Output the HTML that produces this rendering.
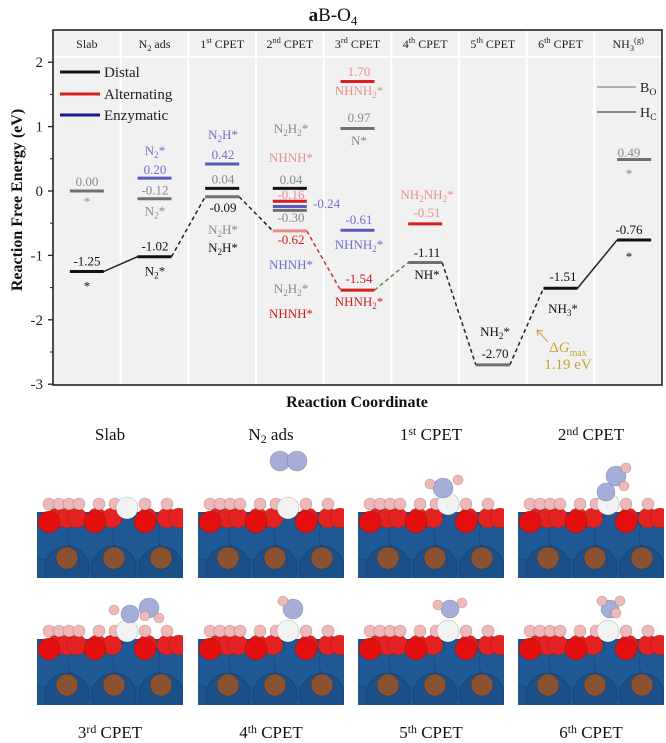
<!DOCTYPE html>
<html><head><meta charset="utf-8">
<style>
body{margin:0;background:#fff;}
svg{display:block;font-family:"Liberation Serif",serif;}
</style></head>
<body>
<svg id="fig" width="666" height="743" viewBox="0 0 666 743" xmlns="http://www.w3.org/2000/svg">
<defs><clipPath id="pc"><rect x="0" y="-45" width="146" height="129"/></clipPath></defs>
<g id="chart"></g>
<g id="slabs"></g>
</svg>
<script>
// ---- chart data ----
const stepNames = ["Slab","N<s>2</s> ads","1<p>st</p> CPET","2<p>nd</p> CPET","3<p>rd</p> CPET","4<p>th</p> CPET","5<p>th</p> CPET","6<p>th</p> CPET","NH<s>3</s><p>(g)</p>"];
const levelCols   = [0,0,1,1,1,2,2,2,3,3,3,3,3,4,4,4,4,5,5,6,7,8,8];
const levelValues = [0.00,-1.25,0.20,-0.12,-1.02,0.42,0.04,-0.09,0.04,-0.16,-0.24,-0.30,-0.62,1.70,0.97,-0.61,-1.54,-0.51,-1.11,-2.70,-1.51,0.49,-0.76];
const levelKinds  = ["g","k","b","g","k","b","k","g","k","r","b","g","p","r","g","b","r","r","g","g","k","g","k"];
const connFrom = [[0,-1.25],[1,-1.02],[2,-0.09],[3,-0.62],[4,-1.54],[5,-1.11],[6,-2.70],[7,-1.51]];
const connTo   = [[1,-1.02],[2,-0.09],[3,-0.62],[4,-1.54],[5,-1.11],[6,-2.70],[7,-1.51],[8,-0.76]];
const connKinds = ["solid-k","dash-k","dash-k","dash-r","dash-gr","dash-k","dash-k","solid-k"];
const yTicks = [2,1,0,-1,-2,-3];

const L=53,R=662,T=30,B=385,HB=57,colW=(R-L)/9;
const y0=191,pu=64.4;
function Y(v){return y0-v*pu;}
function CX(c){return L+colW*c+colW/2+(c===8?6:0);}
const lineCol={k:"#111",g:"#6f6f6f",b:"#5a5ab8",r:"#d81e1e",p:"#e88a8a"};
const NS="http://www.w3.org/2000/svg";
const chart=document.getElementById('chart');
function el(tag,attrs,parent){const e=document.createElementNS(NS,tag);for(const k in attrs)e.setAttribute(k,attrs[k]);(parent||chart).appendChild(e);return e;}
function fmt(s){return s.replace(/<s>(.*?)<\/s>/g,'<tspan font-size="0.7em" dy="3">$1</tspan><tspan dy="-3">&#8203;</tspan>').replace(/<p>(.*?)<\/p>/g,'<tspan font-size="0.7em" dy="-5">$1</tspan><tspan dy="5">&#8203;</tspan>');}
function txt(x,y,s,size,fill,anchor,weight){const t=el('text',{x:x,y:y,'font-size':size,fill:fill,'text-anchor':anchor||'middle','font-weight':weight||'normal'});t.innerHTML=fmt(s);return t;}

const bg=el('rect',{x:L,y:T,width:R-L,height:B-T,fill:"#f1f1f1"});

for(let i=1;i<9;i++){const s=el('line',{x1:L+colW*i,x2:L+colW*i,y1:T,y2:B,stroke:"#fff","stroke-width":2});
}
el('line',{x1:L,x2:R,y1:HB,y2:HB,stroke:"#fff","stroke-width":2});
stepNames.forEach((n,i)=>{const t=txt(L+colW*i+colW/2,48,n,12,"#222");
});
const fr=el('rect',{x:L,y:T,width:R-L,height:B-T,fill:"none",stroke:"#222","stroke-width":1.6});

yTicks.forEach(v=>{el('line',{x1:L-5,x2:L,y1:Y(v),y2:Y(v),stroke:"#222","stroke-width":1.3});
const t=txt(L-10,Y(v)+5,String(v),15,"#222","end");
if(v>-3)el('line',{x1:L-3,x2:L,y1:Y(v-0.5),y2:Y(v-0.5),stroke:"#222","stroke-width":1});});
const yt=txt(0,0,"Reaction  Free  Energy (eV)",16,"#111","middle","bold");
yt.setAttribute('transform','translate(22,200) rotate(-90)');

const xt=txt(357,407,"Reaction Coordinate",16,"#111","middle","bold");

const tt=el('text',{x:333,y:21,'font-size':19,'text-anchor':'middle',fill:'#111'});
tt.innerHTML='<tspan font-weight="bold">a</tspan>B-O<tspan font-size="13" dy="4">4</tspan>';


connFrom.forEach((f,i)=>{const t=connTo[i];const k=connKinds[i];
const col=k.endsWith('-r')?"#d03030":k.endsWith('-gr')?"#5a8a3a":"#222";
const ln=el('line',{x1:CX(f[0])+17,y1:Y(f[1]),x2:CX(t[0])-17,y2:Y(t[1]),stroke:col,"stroke-width":1.5});
if(k.startsWith('dash'))ln.setAttribute('stroke-dasharray','4,3');
});
levelValues.forEach((v,i)=>{const c=levelCols[i];
const ln=el('line',{x1:CX(c)-17,x2:CX(c)+17,y1:Y(v),y2:Y(v),stroke:lineCol[levelKinds[i]],"stroke-width":3});
});

const K="#111",G="#8a8a8a",BL="#7070c8",PK="#e89090",RD="#cc1f1f";
const ann=[
[87,Y(0)-5,"0.00",G],[87,Y(0)+15,"*",G],[87,Y(-1.25)-6,"-1.25",K],[87,Y(-1.25)+19,"*",K],
[155,Y(0.2)-23,"N<s>2</s>*",BL],[155,Y(0.2)-4,"0.20",BL],[155,Y(-0.12)-4,"-0.12",G],[155,Y(-0.12)+17,"N<s>2</s>*",G],
[155,Y(-1.02)-6,"-1.02",K],[155,Y(-1.02)+19,"N<s>2</s>*",K],
[223,Y(0.42)-25,"N<s>2</s>H*",BL],[223,Y(0.42)-5,"0.42",BL],[223,Y(0.04)-5,"0.04",G],[223,212,"-0.09",K],
[223,234,"N<s>2</s>H*",G],[223,252,"N<s>2</s>H*",K],
[291,133,"N<s>2</s>H<s>2</s>*",G],[291,162,"NHNH*",PK],[291,184,"0.04",G],[291,199,"-0.16",PK],[291,222,"-0.30",G],
[291,244,"-0.62",RD],[291,269,"NHNH*",BL],[291,293,"N<s>2</s>H<s>2</s>*",G],[291,318,"NHNH*",RD],
[359,76,"1.70",PK],[359,95,"NHNH<s>2</s>*",PK],[359,122,"0.97",G],[359,145,"N*",G],
[359,224,"-0.61",BL],[359,249,"NHNH<s>2</s>*",BL],[359,283,"-1.54",RD],[359,306,"NHNH<s>2</s>*",RD],
[427,199,"NH<s>2</s>NH<s>2</s>*",PK],[427,217,"-0.51",PK],[427,257,"-1.11",K],[427,279,"NH*",K],
[495,336,"NH<s>2</s>*",K],[495,358,"-2.70",K],
[563,281,"-1.51",K],[563,313,"NH<s>3</s>*",K],
[629,157,"0.49",G],[629,178,"*",G],[629,234,"-0.76",K],[629,261,"*",K]];
ann.forEach(a=>{const t=txt(a[0],a[1],a[2],13,a[3]);});
const t24=txt(313,208,"-0.24",13,BL,"start");
const dg=el('text',{x:568,y:352,'font-size':15,fill:'#c8a032','text-anchor':'middle'});
dg.innerHTML='&#916;<tspan font-style="italic">G</tspan><tspan font-size="10" dy="4">max</tspan>';

const dv=txt(568,369,"1.19 eV",15,"#c8a032");
el('line',{x1:548,y1:342,x2:538,y2:331,stroke:"#c8a032","stroke-width":1});
el('polyline',{points:"538,336 537,330 543,331",fill:"none",stroke:"#c8a032","stroke-width":1});
[["Distal","#111",72],["Alternating","#d81e1e",94],["Enzymatic","#1a1a8a",115]].forEach(l=>{
const g=el('line',{x1:60,x2:100,y1:l[2],y2:l[2],stroke:l[1],"stroke-width":3});

const t=txt(104,l[2]+5,l[0],15,"#222","start");});
[["B<s>O</s>","#b0b0b0",87],["H<s>C</s>","#888",112]].forEach(l=>{
el('line',{x1:597,x2:636,y1:l[2],y2:l[2],stroke:l[1],"stroke-width":2});
const t=txt(640,l[2]+5,l[0],14,"#222","start");});

// ---- slab images ----
const slabs=document.getElementById('slabs');
function sel(tag,a,p){const e=document.createElementNS(NS,tag);for(const k in a)e.setAttribute(k,a[k]);p.appendChild(e);return e;}
function ball(p,x,y,r,c){sel('circle',{cx:x,cy:y,r:r,fill:c,stroke:"rgba(0,0,0,0.25)","stroke-width":0.6},p);}
const Ncol="#a4aed8",Hcol="#f0b8b8",Wcol="#f2f2f2";
function slab(ox,oy,ads){
 const g0=sel('g',{transform:`translate(${ox},${oy})`},slabs);
 
 const g=sel('g',{'clip-path':'url(#pc)'},g0);
 sel('rect',{x:0,y:18,width:146,height:66,fill:"#1d5590"},g);
 [10,55,100,145].forEach(x=>ball(g,x,42,24,"#1f5a96"));
 [30,77,124].forEach(x=>ball(g,x,74,22,"#1a4f88"));
 [30,77,124].forEach(x=>ball(g,x,64,11,"#8a5230"));
 [20,30,40,60,75,110,130,142].forEach(x=>ball(g,x,24,10,"#e52222"));
 [12,58,108].forEach(x=>ball(g,x,28,11,"#e41010"));
 [12,22,32,42,62,78,108,130].forEach(x=>ball(g,x,10,6,Hcol));
 ball(g,90,14+(ads.by||0),11,Wcol);
 (ads.a||[]).forEach(a=>ball(g,a[0],a[1],a[2],a[3]));
}
const cols=[37,198,358,518];
slab(cols[0],494,{});
slab(cols[1],494,{a:[[82,-33,10,Ncol],[99,-33,10,Ncol]]});
slab(cols[2],494,{by:-4,a:[[85,-6,10,Ncol],[72,-10,5,Hcol],[100,-14,5,Hcol]]});
slab(cols[3],494,{by:-4,a:[[88,-2,9,Ncol],[98,-18,10,Ncol],[108,-26,5,Hcol],[106,-8,5,Hcol]]});
slab(cols[0],621,{by:-4,a:[[93,-7,9,Ncol],[112,-13,10,Ncol],[77,-11,5,Hcol],[122,-3,5,Hcol],[108,-5,5,Hcol]]});
slab(cols[1],621,{by:-4,a:[[95,-12,10,Ncol],[85,-20,5,Hcol]]});
slab(cols[2],621,{by:-4,a:[[92,-12,9,Ncol],[80,-16,5,Hcol],[104,-18,5,Hcol]]});
slab(cols[3],621,{by:-4,a:[[92,-12,9,Ncol],[84,-20,5,Hcol],[102,-20,5,Hcol],[98,-8,5,Hcol]]});
const labs1=["Slab","N<s>2</s> ads","1<p>st</p> CPET","2<p>nd</p> CPET"],labs2=["3<p>rd</p> CPET","4<p>th</p> CPET","5<p>th</p> CPET","6<p>th</p> CPET"];
labs1.forEach((s,i)=>{const t=txt(cols[i]+73,440,s,17,"#111");});
labs2.forEach((s,i)=>{const t=txt(cols[i]+73,738,s,17,"#111");});
</script>
</body></html>
